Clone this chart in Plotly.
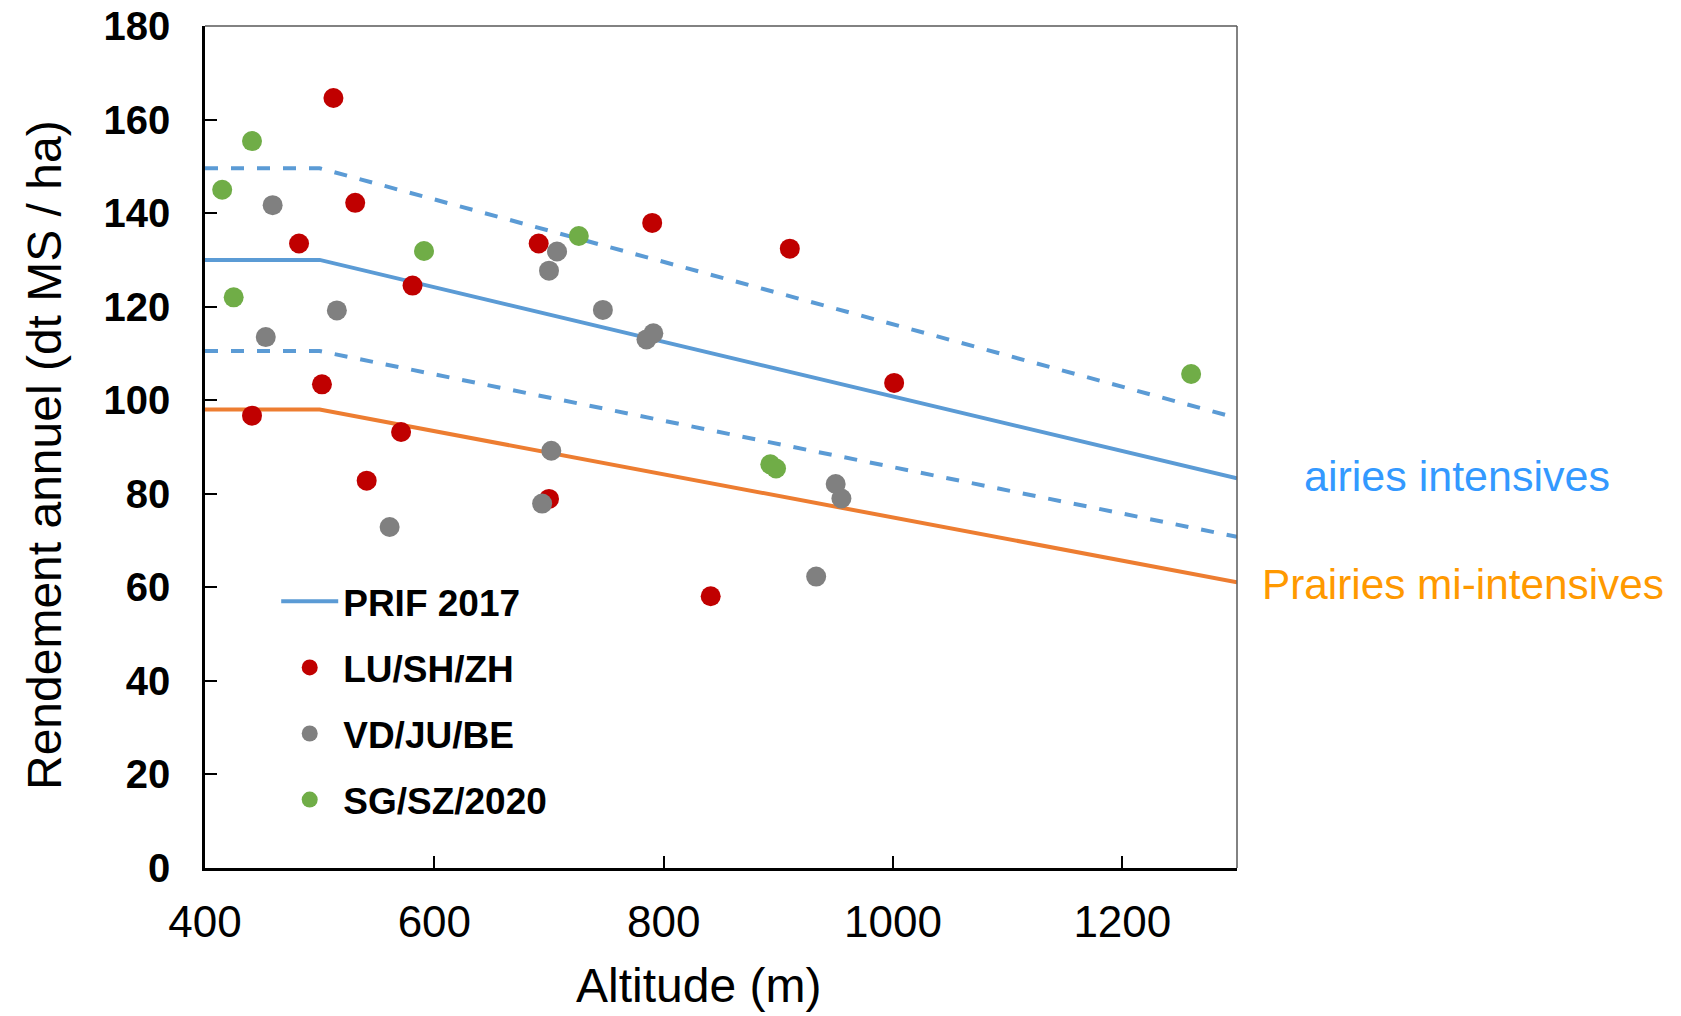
import plotly.graph_objects as go

# --- data ---
alt_lu = [512, 531, 482, 581, 502, 441, 571, 541, 691, 790, 910, 1001, 700, 841]
yield_lu = [164.6, 142.2, 133.5, 124.5, 103.4, 96.7, 93.2, 82.8, 133.5, 137.9, 132.4, 103.7, 78.9, 58.1]

alt_vd = [459, 453, 515, 561, 707, 700, 747, 785, 791, 702, 694, 950, 955, 933]
yield_vd = [141.7, 113.5, 119.2, 72.9, 131.8, 127.7, 119.3, 113.0, 114.3, 89.2, 77.9, 82.1, 79.0, 62.3]

alt_sg = [415, 441, 425, 591, 726, 893, 898, 1260]
yield_sg = [145.0, 155.4, 122.0, 131.9, 135.1, 86.3, 85.4, 105.6]

line_alt = [400, 500, 1300]
prif_mean = [130, 130, 83.3]
prif_upper = [149.6, 149.6, 96.2]
prif_lower = [110.5, 110.5, 70.8]
mi_intensive = [98, 98, 61.1]

x_ticks = [400, 600, 800, 1000, 1200]
y_ticks = list(range(0, 181, 20))

BLUE = "#5B9BD5"
ORANGE = "#ED7D31"
FONT = "Liberation Sans, Arial, sans-serif"

fig = go.Figure()
fig.add_trace(go.Scatter(x=line_alt, y=prif_upper, mode="lines", showlegend=False,
                         line=dict(color=BLUE, width=4, dash="13px,13px"), hoverinfo="skip"))
fig.add_trace(go.Scatter(x=line_alt, y=prif_lower, mode="lines", showlegend=False,
                         line=dict(color=BLUE, width=4, dash="13px,13px"), hoverinfo="skip"))
fig.add_trace(go.Scatter(x=line_alt, y=mi_intensive, mode="lines", showlegend=False,
                         line=dict(color=ORANGE, width=4), hoverinfo="skip"))
fig.add_trace(go.Scatter(x=line_alt, y=prif_mean, mode="lines", name="PRIF 2017",
                         legendgroup="a", line=dict(color=BLUE, width=4)))
fig.add_trace(go.Scatter(x=alt_lu, y=yield_lu, mode="markers", name="LU/SH/ZH",
                         legendgroup="b", marker=dict(color="#C00000", size=20)))
fig.add_trace(go.Scatter(x=alt_vd, y=yield_vd, mode="markers", name="VD/JU/BE",
                         legendgroup="c", marker=dict(color="#808080", size=20)))
fig.add_trace(go.Scatter(x=alt_sg, y=yield_sg, mode="markers", name="SG/SZ/2020",
                         legendgroup="d", marker=dict(color="#70AD47", size=20)))

fig.update_layout(
    width=1673, height=1008,
    paper_bgcolor="white", plot_bgcolor="white",
    margin=dict(l=197, r=444, t=18, b=148),
    font=dict(family=FONT, color="black"),
    legend=dict(x=0.069, y=0.353, xanchor="left", yanchor="top", itemwidth=57,
                bgcolor="rgba(0,0,0,0)", traceorder="grouped", tracegroupgap=15,
                font=dict(size=37, family=FONT, weight="bold")),
    xaxis=dict(range=[400, 1300], tickvals=x_ticks, ticks="inside", ticklen=12, tickwidth=2,
               tickcolor="black", showline=True, linecolor="black", linewidth=2.5,
               showgrid=False, zeroline=False, automargin=False,
               tickfont=dict(size=44, family=FONT),
               ticklabelstandoff=13, ticklabeloverflow="allow"),
    yaxis=dict(range=[0, 180], tickvals=y_ticks, ticks="inside", ticklen=12, tickwidth=2,
               tickcolor="black", showline=True, linecolor="black", linewidth=2.5,
               showgrid=False, zeroline=False, automargin=False,
               tickfont=dict(size=40, weight="bold"),
               ticklabelstandoff=24, ticklabeloverflow="allow"),
)

# frame (top & right)
fig.add_shape(type="line", xref="paper", yref="paper", x0=0, x1=1, y0=1, y1=1,
              line=dict(color="#595959", width=1.5))
fig.add_shape(type="line", xref="paper", yref="paper", x0=1, x1=1, y0=0, y1=1,
              line=dict(color="#595959", width=1.5))

# axis titles
fig.add_annotation(xref="paper", yref="paper", x=0.478, y=-0.140, xanchor="center", yanchor="middle",
                   text="Altitude (m)", showarrow=False, font=dict(size=48))
fig.add_annotation(xref="paper", yref="paper", x=-0.155, y=0.4905, xanchor="center", yanchor="middle",
                   text="Rendement annuel (dt MS / ha)", textangle=-90, showarrow=False,
                   font=dict(size=48))

# line labels
fig.add_annotation(xref="paper", yref="paper", x=1.063, y=0.4656, xanchor="left", yanchor="middle",
                   text="airies intensives", showarrow=False,
                   font=dict(size=43, color="#3399FF"))
fig.add_annotation(xref="paper", yref="paper", x=1.022, y=0.337, xanchor="left", yanchor="middle",
                   text="Prairies mi-intensives", showarrow=False,
                   font=dict(size=42.3, color="#FF9900"))

fig.write_html("out.html")
